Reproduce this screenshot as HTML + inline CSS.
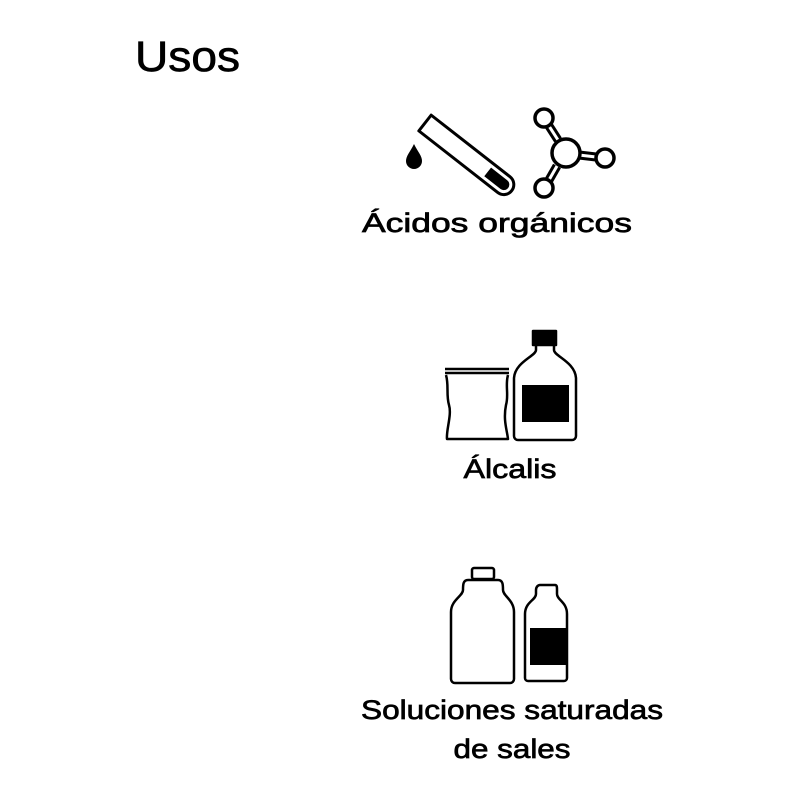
<!DOCTYPE html>
<html><head><meta charset="utf-8"><style>
html,body{margin:0;padding:0;background:#fff;}
svg{display:block;}
text{font-family:"Liberation Sans",sans-serif;fill:#000;stroke:#000;stroke-width:0.7;}
</style></head><body>
<svg width="800" height="800" viewBox="0 0 800 800" xmlns="http://www.w3.org/2000/svg">
<text x="135" y="71" font-size="43" stroke-width="1.2" textLength="105" lengthAdjust="spacingAndGlyphs">Usos</text>

<!-- test tube -->
<g transform="translate(425,123) rotate(38)" fill="none" stroke="#000" stroke-width="3">
  <path d="M0,-10 L100,-10 A10,10 0 0 1 100,10 L0,10 Z" stroke-linejoin="round"/>
  <path d="M80,-5 L100,-5 A5,5 0 0 1 100,5 L80,5 Z" fill="#000" stroke-width="1"/>
</g>
<!-- drop -->
<path d="M414,144 C410,152 406,156 406,161 A7.5,7.5 0 0 0 422,161 C422,156 418,152 414,144 Z" fill="#000"/>

<!-- molecule -->
<g fill="none" stroke="#000" stroke-width="3">
  <line x1="549" y1="126" x2="558" y2="140" stroke-width="9"/>
  <line x1="549" y1="126" x2="558" y2="140" stroke="#fff" stroke-width="3"/>
  <line x1="579" y1="155" x2="596" y2="157" stroke-width="9"/>
  <line x1="579" y1="155" x2="596" y2="157" stroke="#fff" stroke-width="3"/>
  <line x1="549" y1="180" x2="557" y2="166" stroke-width="9"/>
  <line x1="549" y1="180" x2="557" y2="166" stroke="#fff" stroke-width="3"/>
  <circle cx="566" cy="153" r="14" fill="#fff" stroke-width="3.5"/>
  <circle cx="544" cy="118" r="9" fill="#fff" stroke-width="3.5"/>
  <circle cx="605" cy="158" r="9" fill="#fff" stroke-width="3.5"/>
  <circle cx="544" cy="188" r="9" fill="#fff" stroke-width="3.5"/>
</g>
<text x="497" y="232" font-size="27" text-anchor="middle" textLength="270" lengthAdjust="spacingAndGlyphs">Ácidos orgánicos</text>

<!-- bag -->
<g fill="none" stroke="#000" stroke-width="2.5" stroke-linejoin="round">
  <line x1="445" y1="369" x2="509" y2="369"/>
  <line x1="445" y1="373" x2="509" y2="373"/>
  <path d="M446,375 C449,385 446,395 449,405 C452,415 446,430 447,439 L508,439 C507,430 503,420 506,405 C509,395 505,385 508,375"/>
</g>
<!-- bottle with cork -->
<g fill="none" stroke="#000" stroke-width="2.5" stroke-linejoin="round">
  <rect x="533" y="331" width="23" height="14" fill="#000"/>
  <path d="M536,343 L536,350 C536,356 515,362 514,378 L514,436 A4,4 0 0 0 518,440 L572,440 A4,4 0 0 0 576,436 L576,378 C575,362 554,356 554,350 L554,343"/>
  <rect x="522" y="385" width="47" height="37" fill="#000" stroke="none"/>
</g>
<text x="510" y="478" font-size="27" text-anchor="middle" textLength="93" lengthAdjust="spacingAndGlyphs">Álcalis</text>

<!-- big bottle -->
<g fill="none" stroke="#000" stroke-width="2.5" stroke-linejoin="round">
  <rect x="472" y="568" width="22" height="11" rx="2"/>
  <path d="M468,580 L498,580 C503,580 503,585 503,590 C503,596 514,600 514,612 L514,679 A4,4 0 0 1 510,683 L455,683 A4,4 0 0 1 451,679 L451,612 C451,600 463,596 463,590 C463,585 463,580 468,580 Z"/>
</g>
<!-- small bottle -->
<g fill="none" stroke="#000" stroke-width="2.5" stroke-linejoin="round">
  <path d="M540,585 L555,585 C557,585 557,587 557,590 L557,594 C557,600 567,602 567,614 L567,678 A3,3 0 0 1 564,681 L528,681 A3,3 0 0 1 525,678 L525,614 C525,602 536,600 536,594 L536,590 C536,587 538,585 540,585 Z"/>
  <rect x="530" y="628" width="36" height="37" fill="#000" stroke="none"/>
</g>
<text x="512" y="719" font-size="27" text-anchor="middle" textLength="302" lengthAdjust="spacingAndGlyphs">Soluciones saturadas</text>
<text x="512" y="758" font-size="27" text-anchor="middle" textLength="117" lengthAdjust="spacingAndGlyphs">de sales</text>
</svg>
</body></html>
